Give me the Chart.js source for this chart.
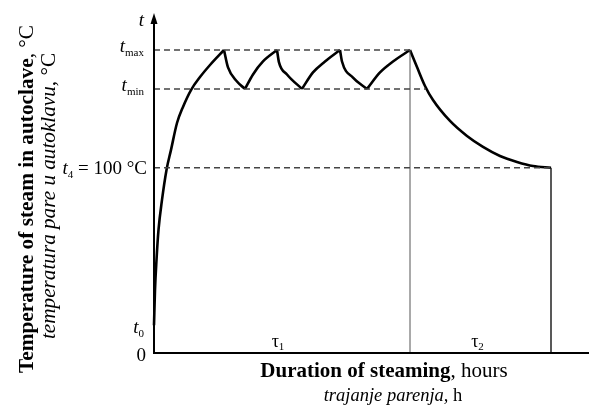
<!DOCTYPE html>
<html>
<head>
<meta charset="utf-8">
<script src="https://cdn.jsdelivr.net/npm/chart.js@4"></script>
<style>
  html, body { margin: 0; padding: 0; background: #fff; }
  canvas { display: block; }
</style>
</head>
<body>
<canvas id="steamChart" width="589" height="405"></canvas>
<script>
// Characteristic temperatures (°C) and phase ends (h)
const T_MAX = 163.5;
const T_MIN = 142.5;
const T_4 = 100;
const T_0 = 15;
const TAU1_END = 25.6;
const TAU2_END = 39.7;
const TMIN_GUIDE_END = 27.2;

// Heat-up from t0 to the first t_max
const heatUp = [[0, 15], [0.1, 34.0], [0.25, 50.2], [0.45, 66.4], [0.8, 82.6], [1.25, 98.8],
  [1.7, 109.6], [2.3, 124.1], [2.9, 132.8], [3.7, 141.9], [4.6, 148.9], [5.6, 155.4], [7.0, 163.5]];

// Holding phase: drop to t_min, then back up to t_max
const holdFalls = [
  [[7.0, 163.5], [7.4, 154.1], [8.3, 146.5], [9.1, 142.5]],
  [[12.3, 163.5], [12.5, 156.8], [13.3, 150.3], [14.8, 142.5]],
  [[18.6, 163.5], [18.8, 157.3], [19.9, 148.6], [21.3, 142.5]]
];
const holdRises = [
  [[9.1, 142.5], [9.9, 150.3], [10.9, 157.3], [12.3, 163.5]],
  [[14.8, 142.5], [15.9, 151.4], [17.1, 157.3], [18.6, 163.5]],
  [[21.3, 142.5], [22.6, 151.4], [23.9, 157.3], [25.6, 163.5]]
];

// Cool-down to t4
const coolDown = [[25.6, 163.5], [26.3, 154.3], [27.1, 144.1], [27.9, 136.5], [29.6, 125.2],
  [31.3, 117.1], [32.9, 111.2], [34.6, 106.3], [36.3, 103.1], [37.9, 100.9], [39.7, 100]];

const SERIF = "'Liberation Serif', 'Times New Roman', serif";
const toPts = arr => arr.map(([x, y]) => ({ x, y }));

const curve = data => ({
  data: toPts(data),
  borderColor: '#000',
  borderWidth: 2.6,
  pointRadius: 0,
  cubicInterpolationMode: 'monotone',
  clip: false
});
const guide = data => ({
  data: toPts(data),
  borderColor: '#444',
  borderWidth: 1.5,
  borderDash: [6, 4],
  pointRadius: 0,
  tension: 0,
  clip: false
});
const divider = (data, color, width) => ({
  data: toPts(data),
  borderColor: color,
  borderWidth: width,
  pointRadius: 0,
  tension: 0,
  clip: false
});

// draw a row of differently styled pieces: [text, font, dy]
function drawRuns(ctx, runs, x, y, align) {
  const widths = runs.map(([t, f]) => { ctx.font = f; return ctx.measureText(t).width; });
  const total = widths.reduce((a, b) => a + b, 0);
  let cx = align === 'center' ? x - total / 2 : align === 'right' ? x - total : x;
  ctx.textAlign = 'left';
  ctx.textBaseline = 'alphabetic';
  runs.forEach(([t, f, dy], i) => {
    ctx.font = f;
    ctx.fillText(t, cx, y + (dy || 0));
    cx += widths[i];
  });
}

function drawUpright(ctx, runs, x, y) {
  ctx.save();
  ctx.translate(x, y);
  ctx.rotate(-Math.PI / 2);
  drawRuns(ctx, runs, 0, 0, 'center');
  ctx.restore();
}

const sketch = {
  id: 'sketch',
  afterDatasetsDraw(chart) {
    const { ctx, chartArea: a, scales: { x, y } } = chart;
    ctx.save();
    ctx.strokeStyle = '#000';
    ctx.fillStyle = '#000';
    ctx.lineWidth = 2;

    // axes
    ctx.beginPath();
    ctx.moveTo(a.left - 1, a.bottom);
    ctx.lineTo(a.right, a.bottom);
    ctx.moveTo(a.left, a.bottom);
    ctx.lineTo(a.left, a.top + 8);
    ctx.stroke();
    ctx.beginPath();
    ctx.moveTo(a.left, a.top + 1);
    ctx.lineTo(a.left - 3.5, a.top + 12);
    ctx.lineTo(a.left + 3.5, a.top + 12);
    ctx.closePath();
    ctx.fill();

    const it = `italic 19px ${SERIF}`;
    const rg = `19px ${SERIF}`;
    const sub = `11px ${SERIF}`;

    drawRuns(ctx, [['t', it]], a.left - 10, a.top + 14, 'right');

    const yMax = y.getPixelForValue(T_MAX);
    drawRuns(ctx, [['t', it], ['max', sub, 4]], a.left - 10, yMax + 2, 'right');
    const yMin = y.getPixelForValue(T_MIN);
    drawRuns(ctx, [['t', it], ['min', sub, 4]], a.left - 10, yMin + 2, 'right');
    const y4 = y.getPixelForValue(T_4);
    drawRuns(ctx, [['t', it], ['4', sub, 4], [' = 100 °C', rg]], a.left - 7, y4 + 6, 'right');
    const y0 = y.getPixelForValue(T_0);
    drawRuns(ctx, [['t', it], ['0', sub, 4]], a.left - 10, y0 + 8, 'right');
    drawRuns(ctx, [['0', rg]], a.left - 8, a.bottom + 8, 'right');

    // phase labels
    const tauFont = `18px ${SERIF}`;
    const mid1 = (x.getPixelForValue(0) + x.getPixelForValue(TAU1_END)) / 2 - 4;
    const mid2 = (x.getPixelForValue(TAU1_END) + x.getPixelForValue(TAU2_END)) / 2 - 3;
    drawRuns(ctx, [['τ', tauFont], ['1', sub, 3]], mid1, a.bottom - 6, 'center');
    drawRuns(ctx, [['τ', tauFont], ['2', sub, 3]], mid2, a.bottom - 6, 'center');

    // axis titles
    drawRuns(ctx, [['Duration of steaming', `bold 21px ${SERIF}`], [', hours', `21px ${SERIF}`]],
      384, 377, 'center');
    drawRuns(ctx, [['trajanje parenja,', `italic 18.5px ${SERIF}`], [' h', `18.5px ${SERIF}`]],
      393, 401, 'center');

    drawUpright(ctx, [['Temperature of steam in autoclave', `bold 21.3px ${SERIF}`], [', °C', `21.3px ${SERIF}`]],
      33, 199);
    drawUpright(ctx, [['temperatura pare u autoklavu,', `italic 21.2px ${SERIF}`], [' °C', `21.2px ${SERIF}`]],
      55, 196);
    ctx.restore();
  }
};

new Chart(document.getElementById('steamChart'), {
  type: 'line',
  data: {
    datasets: [
      guide([[0, T_MAX], [TAU1_END, T_MAX]]),
      guide([[0, T_MIN], [TMIN_GUIDE_END, T_MIN]]),
      guide([[0, T_4], [TAU2_END, T_4]]),
      divider([[TAU1_END, 0], [TAU1_END, T_MAX]], '#555', 1),
      divider([[TAU2_END, 0], [TAU2_END, T_4]], '#222', 1.5),
      curve(heatUp),
      ...holdFalls.map(curve),
      ...holdRises.map(curve),
      curve(coolDown)
    ]
  },
  options: {
    responsive: false,
    animation: false,
    devicePixelRatio: 1,
    layout: { padding: { left: 154, right: 0, top: 12, bottom: 52 } },
    scales: {
      x: { type: 'linear', min: 0, max: 43.5, display: false },
      y: { type: 'linear', min: 0, max: 184, display: false }
    },
    plugins: { legend: { display: false }, tooltip: { enabled: false } }
  },
  plugins: [sketch]
});
</script>
</body>
</html>
